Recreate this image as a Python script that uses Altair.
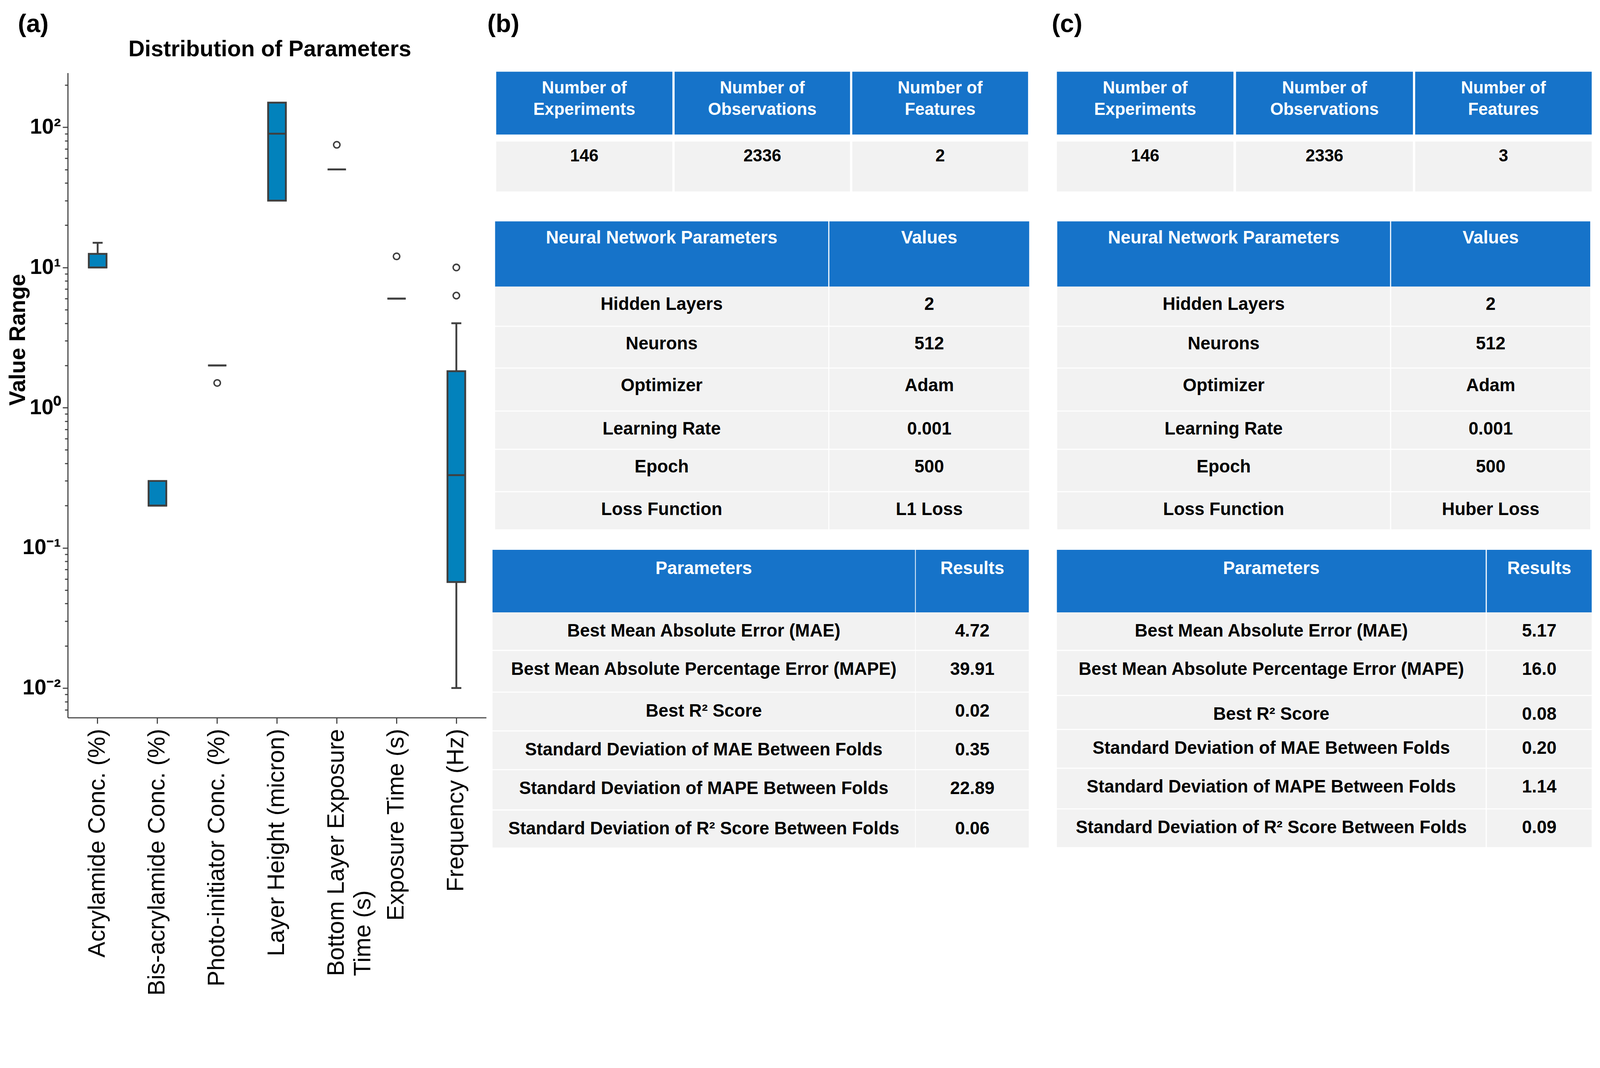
import altair as alt
import pandas as pd

# ---------------- data: panel (a) box plot summary ----------------
params = [
    "Acrylamide Conc. (%)",
    "Bis-acrylamide Conc. (%)",
    "Photo-initiator Conc. (%)",
    "Layer Height (micron)",
    "Bottom Layer Exposure\nTime (s)",
    "Exposure Time (s)",
    "Frequency (Hz)",
]
box_q1 = [10, 0.2, 2, 30, 50, 6, 0.057]
box_median = [10, 0.2, 2, 90, 50, 6, 0.33]
box_q3 = [12.5, 0.3, 2, 150, 50, 6, 1.82]
whisker_low = [10, 0.2, 2, 30, 50, 6, 0.01]
whisker_high = [15, 0.3, 2, 150, 50, 6, 4.0]
outlier_param = [
    "Photo-initiator Conc. (%)",
    "Bottom Layer Exposure\nTime (s)",
    "Exposure Time (s)",
    "Frequency (Hz)",
    "Frequency (Hz)",
]
outlier_value = [1.5, 75, 12, 10, 6.3]

# ---------------- data: tables (b) and (c) ----------------
summary_headers = ["Number of\nExperiments", "Number of\nObservations", "Number of\nFeatures"]
summary_b = ["146", "2336", "2"]
summary_c = ["146", "2336", "3"]

nn_headers = ["Neural Network Parameters", "Values"]
nn_params = ["Hidden Layers", "Neurons", "Optimizer", "Learning Rate", "Epoch", "Loss Function"]
nn_values_b = ["2", "512", "Adam", "0.001", "500", "L1 Loss"]
nn_values_c = ["2", "512", "Adam", "0.001", "500", "Huber Loss"]

res_headers = ["Parameters", "Results"]
res_params = [
    "Best Mean Absolute Error (MAE)",
    "Best Mean Absolute Percentage Error (MAPE)",
    "Best R\u00b2 Score",
    "Standard Deviation of MAE Between Folds",
    "Standard Deviation of MAPE Between Folds",
    "Standard Deviation of R\u00b2 Score Between Folds",
]
res_values_b = ["4.72", "39.91", "0.02", "0.35", "22.89", "0.06"]
res_values_c = ["5.17", "16.0", "0.08", "0.20", "1.14", "0.09"]

# ---------------- styling / layout constants ----------------
FONT = "Liberation Sans"
BOX_FILL = "#0282BC"
LINE = "#3f3f3f"
AXIS_C = "#404040"
HEAD_BLUE = "#1673C9"
BODY_GRAY = "#F2F2F2"

PLOT_LEFT, PLOT_TOP = 183, 200
A_W, A_H = 1133, 1745
Y_DOMAIN = [0.00615, 244.5]
XLAB_SIZE = 64
# two-line label: lines left-aligned like the original (longest line width ~10.45em)
TWO_LINE = "indexof(datum.value, '\\n') >= 0"
TWO_LINE_PAD = 14 + round(10.45 * XLAB_SIZE)

# ---------------- panel (a) ----------------
stats = pd.DataFrame({
    "param": params, "q1": box_q1, "median": box_median, "q3": box_q3,
    "lo": whisker_low, "hi": whisker_high,
})
upper = stats[stats["hi"] > stats["q3"]]
lower = stats[stats["lo"] < stats["q1"]]
outl = pd.DataFrame({"param": outlier_param, "value": outlier_value})

major_vals = [0.01, 0.1, 1, 10, 100]
minor_vals = [round(m * 10.0 ** e, 6) for e in range(-3, 3) for m in range(2, 10)
              if Y_DOMAIN[0] <= m * 10.0 ** e <= Y_DOMAIN[1]]

E = "round(log(datum.value)/LN10)"
IS_MAJOR = f"abs(log(datum.value)/LN10 - {E}) < 0.001"
label_expr = (f"{IS_MAJOR} ? '10' + ({E} == 2 ? '\u00b2' : {E} == 1 ? '\u00b9' : "
              f"{E} == 0 ? '\u2070' : {E} == -1 ? '\u207b\u00b9' : '\u207b\u00b2') : ''")

xscale = alt.Scale(type="band", domain=params, paddingInner=0, paddingOuter=0)
xaxis = alt.Axis(
    title=None, labelAngle=270, labelExpr="split(datum.label, '\\n')",
    labelFont=FONT, labelFontSize=XLAB_SIZE, labelColor="black", labelLineHeight=72,
    labelLimit=3000, labelBaseline="middle",
    labelAlign={"condition": {"test": TWO_LINE, "value": "left"}, "value": "right"},
    labelPadding={"condition": {"test": TWO_LINE, "value": TWO_LINE_PAD}, "value": 14},
    tickSize=16, tickWidth=3, tickColor=AXIS_C,
    domainColor=AXIS_C, domainWidth=3, grid=False,
)
yscale = alt.Scale(type="log", domain=Y_DOMAIN, nice=False)
yaxis = alt.Axis(
    values=major_vals + minor_vals, labelExpr=label_expr, labelOverlap=False,
    tickSize={"condition": {"test": IS_MAJOR, "value": 14}, "value": 8},
    tickWidth=3, tickColor=AXIS_C, domainColor=AXIS_C, domainWidth=3, grid=False,
    labelFont=FONT, labelFontSize=58, labelFontWeight="bold", labelColor="black",
    labelPadding=5,
    title="Value Range", titleFont=FONT, titleFontSize=60, titleFontWeight="bold",
    titleColor="black", titleAngle=270, titleX=67 - PLOT_LEFT, titleY=922 - PLOT_TOP,
    titleAlign="center", titleBaseline="alphabetic",
)

X = alt.X("param:N", scale=xscale, axis=xaxis)

whisk_up = alt.Chart(upper).mark_rule(color=LINE, strokeWidth=5).encode(
    x=X, y=alt.Y("q3:Q", scale=yscale, axis=yaxis), y2="hi:Q")
whisk_lo = alt.Chart(lower).mark_rule(color=LINE, strokeWidth=5).encode(
    x=X, y=alt.Y("lo:Q", scale=yscale, axis=yaxis), y2="q1:Q")
boxes = alt.Chart(stats).mark_bar(size=48, fill=BOX_FILL, stroke=LINE, strokeWidth=5).encode(
    x=X, y=alt.Y("q1:Q", scale=yscale, axis=yaxis), y2="q3:Q")
medians = alt.Chart(stats).mark_tick(size=50, thickness=5, color=LINE, opacity=1).encode(
    x=X, y=alt.Y("median:Q", scale=yscale, axis=yaxis))
cap_up = alt.Chart(upper).mark_tick(size=27, thickness=5, color=LINE, opacity=1).encode(
    x=X, y=alt.Y("hi:Q", scale=yscale, axis=yaxis))
cap_lo = alt.Chart(lower).mark_tick(size=27, thickness=5, color=LINE, opacity=1).encode(
    x=X, y=alt.Y("lo:Q", scale=yscale, axis=yaxis))
points = alt.Chart(outl).mark_point(shape="circle", filled=False, size=300, strokeWidth=4,
                                    color=LINE, opacity=1).encode(
    x=X, y=alt.Y("value:Q", scale=yscale, axis=yaxis))

lab_a = alt.Chart(pd.DataFrame({"t": ["(a)"]})).mark_text(
    align="left", baseline="alphabetic", font=FONT, fontSize=68, fontWeight="bold",
    color="black").encode(text="t:N", x=alt.value(48 - PLOT_LEFT), y=alt.value(90 - PLOT_TOP))
title_a = alt.Chart(pd.DataFrame({"t": ["Distribution of Parameters"]})).mark_text(
    align="center", baseline="alphabetic", font=FONT, fontSize=61, fontWeight="bold",
    color="black").encode(text="t:N", x=alt.value(730 - PLOT_LEFT), y=alt.value(155 - PLOT_TOP))

panel_a = alt.layer(whisk_up, whisk_lo, boxes, medians, cap_up, cap_lo, points,
                    lab_a, title_a).properties(width=A_W, height=A_H)

# ---------------- panels (b), (c): tables ----------------
T1_HEAD = (197, 367)
T1_BODY = (386, 521)
T1_HEAD_BASE, T1_BODY_BASE = 256, 440
T2_HEAD = (602, 778.5)
T2_HEAD_BASE, T2_BODY_OFF = 662, 63
T3_HEAD = (1491, 1660)
T3_HEAD_BASE, T3_BODY_OFF = 1556, 66

LAYOUT_B = dict(
    t1_cols=[(1343, 1820), (1826, 2301), (2307, 2783)],
    t2_cols=[(1340, 2242), (2245, 2786)],
    t2_rows=[778.5, 885.8, 998.9, 1115.4, 1218.8, 1333.6, 1437],
    t3_cols=[(1333, 2477), (2479, 2785)],
    t3_rows=[1660, 1763, 1876, 1981, 2086, 2195, 2298],
)
LAYOUT_C = dict(
    t1_cols=[(2861, 3339), (3346, 3825), (3831, 4309)],
    t2_cols=[(2862, 3763), (3766, 4305)],
    t2_rows=[778.5, 885.8, 998.9, 1115.4, 1218.8, 1333.6, 1437],
    t3_cols=[(2861, 4022), (4025, 4309)],
    t3_rows=[1660, 1763, 1885, 1977, 2082, 2192, 2297],
)
Y_TOP, Y_BOT = 200, 2310


def table_panel(x_lo, x_hi, label, label_x, L, summary_vals, nn_vals, res_vals):
    cells, texts = [], []
    for (c0, c1), head, val in zip(L["t1_cols"], summary_headers, summary_vals):
        cells.append(dict(x0=c0, x1=c1, y0=T1_HEAD[0], y1=T1_HEAD[1], fill=HEAD_BLUE))
        cells.append(dict(x0=c0, x1=c1, y0=T1_BODY[0], y1=T1_BODY[1], fill=BODY_GRAY))
        texts.append(dict(x=(c0 + c1) / 2, y=T1_HEAD_BASE, text=head, color="white", fs=46))
        texts.append(dict(x=(c0 + c1) / 2, y=T1_BODY_BASE, text=val, color="black", fs=46))

    def two_col(cols, head, rows, headers, col1, col2, head_base, body_off):
        for (c0, c1), h in zip(cols, headers):
            cells.append(dict(x0=c0, x1=c1, y0=head[0], y1=head[1], fill=HEAD_BLUE))
            texts.append(dict(x=(c0 + c1) / 2, y=head_base, text=h, color="white", fs=48))
        for i, (a, b) in enumerate(zip(col1, col2)):
            r0, r1 = rows[i], rows[i + 1]
            for (c0, c1), t in zip(cols, (a, b)):
                cells.append(dict(x0=c0, x1=c1, y0=r0 + (0 if i == 0 else 1.5), y1=r1 - 1.5,
                                  fill=BODY_GRAY))
                texts.append(dict(x=(c0 + c1) / 2, y=r0 + body_off, text=t, color="black", fs=48))

    two_col(L["t2_cols"], T2_HEAD, L["t2_rows"], nn_headers, nn_params, nn_vals,
            T2_HEAD_BASE, T2_BODY_OFF)
    two_col(L["t3_cols"], T3_HEAD, L["t3_rows"], res_headers, res_params, res_vals,
            T3_HEAD_BASE, T3_BODY_OFF)

    xs = alt.Scale(domain=[x_lo, x_hi], nice=False, zero=False)
    ys = alt.Scale(domain=[Y_TOP, Y_BOT], nice=False, zero=False, reverse=True)
    rects = alt.Chart(pd.DataFrame(cells)).mark_rect(strokeWidth=0).encode(
        x=alt.X("x0:Q", scale=xs, axis=None), x2="x1:Q",
        y=alt.Y("y0:Q", scale=ys, axis=None), y2="y1:Q",
        color=alt.Color("fill:N", scale=None),
    )
    txt = alt.Chart(pd.DataFrame(texts)).mark_text(
        align="center", baseline="alphabetic", font=FONT, fontWeight="bold",
        lineBreak="\n", lineHeight=58,
    ).encode(
        x=alt.X("x:Q", scale=xs, axis=None), y=alt.Y("y:Q", scale=ys, axis=None),
        text="text:N", color=alt.Color("color:N", scale=None),
        size=alt.Size("fs:Q", scale=None),
    )
    lab = alt.Chart(pd.DataFrame({"x": [label_x], "y": [90], "t": [label]})).mark_text(
        align="left", baseline="alphabetic", font=FONT, fontSize=68, fontWeight="bold",
        color="black",
    ).encode(x=alt.X("x:Q", scale=xs, axis=None), y=alt.Y("y:Q", scale=ys, axis=None),
             text="t:N")
    return alt.layer(rects, txt, lab).properties(width=x_hi - x_lo, height=Y_BOT - Y_TOP)


panel_b = table_panel(1316, 2840, "(b)", 1319, LAYOUT_B, summary_b, nn_values_b, res_values_b)
panel_c = table_panel(2840, 4320, "(c)", 2847, LAYOUT_C, summary_c, nn_values_c, res_values_c)

# the page places the chart ~79px lower than its origin; compensate in the top padding
PAGE_TOP_SHIFT = 79
chart = alt.hconcat(panel_a, panel_b, panel_c, spacing=0, bounds="flush").properties(
    autosize=alt.AutoSizeParams(type="none"),
    padding={"left": PLOT_LEFT - 8, "top": PLOT_TOP - 8 - PAGE_TOP_SHIFT,
             "right": 4140, "bottom": 2515},
    background="white",
).configure_view(stroke=None)

chart.save("out.html", embed_options={"renderer": "svg", "actions": False})
